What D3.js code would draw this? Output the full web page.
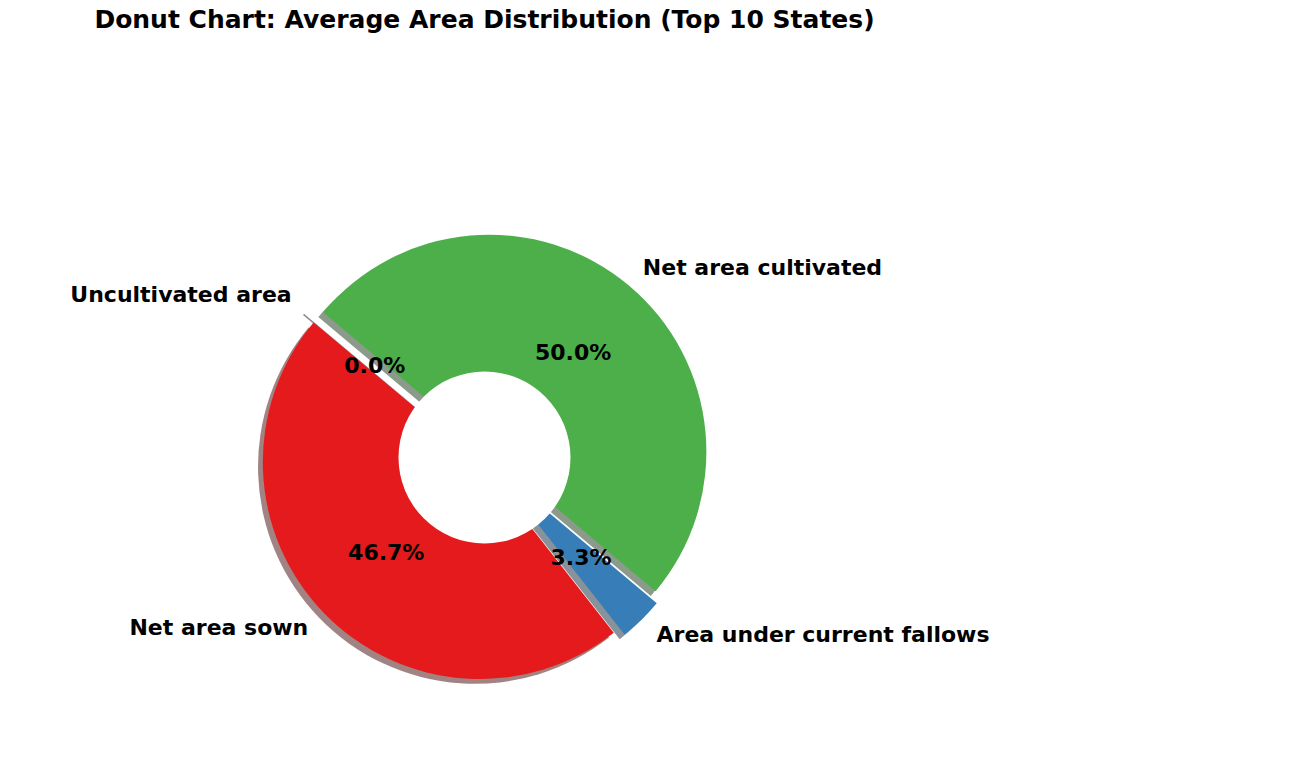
<!DOCTYPE html>
<html><head><meta charset="utf-8">
<script src="https://cdn.jsdelivr.net/npm/d3@7"></script>
<style>
body{margin:0;background:#fff;}
text{font-family:"DejaVu Sans",sans-serif;font-weight:bold;fill:#000;}
</style>
</head><body>
<svg id="chart" width="1289" height="780"></svg>
<script>
// ---- data ----
const categories = ["Net area sown", "Area under current fallows", "Net area cultivated", "Uncultivated area"];
const shares = [46.7, 3.3, 50.0, 0.0];
const colors = ["#e41a1c", "#377eb8", "#4daf4a", "#984ea3"];
const explode = [0.03, 0.04, 0.035, 0.06];
const titleText = "Donut Chart: Average Area Distribution (Top 10 States)";

// ---- layout ----
const W = 1289, H = 780;
const cx = 484.5, cy = 457.5, R = 217;
const holeR = 86;
const startDeg = 140;            // matplotlib startangle (ccw from 3 o'clock)
const shadowOff = 4.8;
const labelFs = 22, pctFs = 22, titleFs = 25;

const svg = d3.select("#chart");
svg.append("rect").attr("width", W).attr("height", H).attr("fill", "#fff");

const d0 = (90 - startDeg) * Math.PI / 180;
const pie = d3.pie().sort(null).value(d => d.v)
  .startAngle(d0).endAngle(d0 - 2 * Math.PI);
const data = pie(categories.map((c, i) => ({c, v: shares[i], i})));

const arc = d3.arc().innerRadius(0).outerRadius(R);

data.forEach(d => {
  d.mid = (d.startAngle + d.endAngle) / 2;
  d.dx = Math.sin(d.mid); d.dy = -Math.cos(d.mid);
  const e = explode[d.data.i] * R;
  d.ox = cx + e * d.dx; d.oy = cy + e * d.dy;
});

const shade = c => { const r = d3.rgb(c); return d3.rgb(r.r * 0.3, r.g * 0.3, r.b * 0.3).toString(); };

// shadows (behind all wedges)
const gSh = svg.append("g");
data.forEach(d => {
  const g = gSh.append("g").attr("transform", `translate(${d.ox - shadowOff},${d.oy + shadowOff})`);
  if (d.endAngle !== d.startAngle) {
    g.append("path").attr("d", arc(d)).attr("fill", shade(colors[d.data.i])).attr("opacity", 0.5);
  } else {
    g.append("line").attr("x1", 0).attr("y1", 0)
      .attr("x2", R * d.dx).attr("y2", R * d.dy)
      .attr("stroke", shade(colors[d.data.i])).attr("stroke-width", 1.6).attr("opacity", 0.5);
  }
});

// wedges
const gW = svg.append("g");
data.forEach(d => {
  if (d.endAngle === d.startAngle) return;
  gW.append("path").attr("d", arc(d))
    .attr("transform", `translate(${d.ox},${d.oy})`)
    .attr("fill", colors[d.data.i]);
});

// centre hole
svg.append("circle").attr("cx", cx).attr("cy", cy).attr("r", holeR).attr("fill", "#fff");

// labels
data.forEach(d => {
  const lx = d.ox + 1.1 * R * d.dx, ly = d.oy + 1.1 * R * d.dy;
  svg.append("text").attr("x", lx).attr("y", ly + 0.3 * labelFs)
    .attr("text-anchor", lx > cx ? "start" : "end")
    .attr("font-size", labelFs).text(d.data.c);
  const px = d.ox + 0.6 * R * d.dx, py = d.oy + 0.6 * R * d.dy;
  svg.append("text").attr("x", px).attr("y", py + 0.36 * pctFs)
    .attr("text-anchor", "middle").attr("font-size", pctFs)
    .text(d3.format(".1f")(d.data.v) + "%");
});

// title
svg.append("text").attr("x", cx).attr("y", 28).attr("text-anchor", "middle")
  .attr("font-size", titleFs).text(titleText);
</script>
</body></html>
